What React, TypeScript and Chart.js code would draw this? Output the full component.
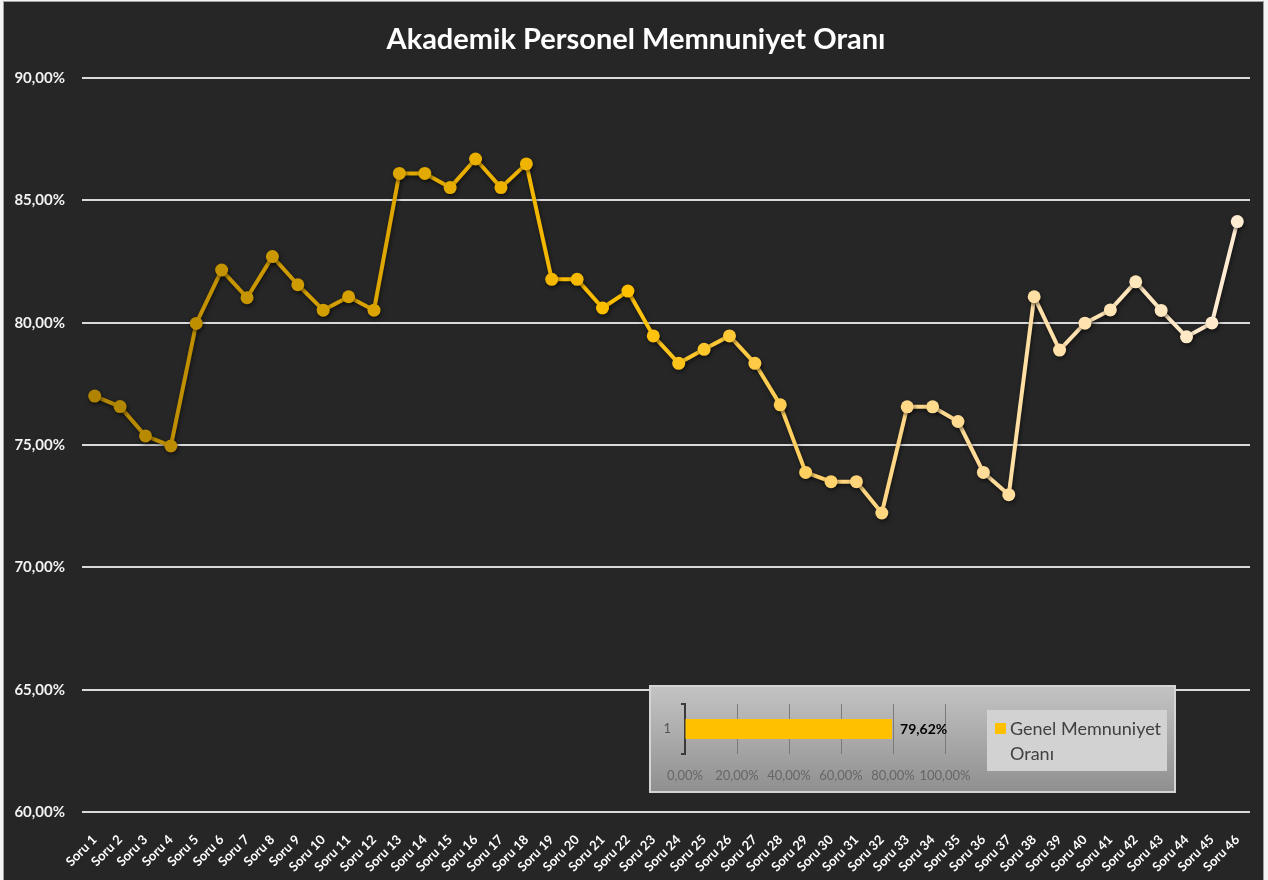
import { useEffect, useRef } from "react";
import { Chart, registerables } from "chart.js";

Chart.register(...registerables);

const chartTitle = "Akademik Personel Memnuniyet Oranı";

const categories = [
  "Soru 1", "Soru 2", "Soru 3", "Soru 4", "Soru 5", "Soru 6", "Soru 7", "Soru 8",
  "Soru 9", "Soru 10", "Soru 11", "Soru 12", "Soru 13", "Soru 14", "Soru 15", "Soru 16",
  "Soru 17", "Soru 18", "Soru 19", "Soru 20", "Soru 21", "Soru 22", "Soru 23", "Soru 24",
  "Soru 25", "Soru 26", "Soru 27", "Soru 28", "Soru 29", "Soru 30", "Soru 31", "Soru 32",
  "Soru 33", "Soru 34", "Soru 35", "Soru 36", "Soru 37", "Soru 38", "Soru 39", "Soru 40",
  "Soru 41", "Soru 42", "Soru 43", "Soru 44", "Soru 45", "Soru 46",
];

const satisfaction = [
  77.0, 76.57, 75.37, 74.96, 79.97, 82.15, 81.02, 82.7,
  81.55, 80.51, 81.06, 80.51, 86.1, 86.1, 85.52, 86.69,
  85.52, 86.49, 81.77, 81.77, 80.6, 81.29, 79.46, 78.34,
  78.91, 79.46, 78.34, 76.64, 73.88, 73.5, 73.5, 72.22,
  76.56, 76.56, 75.96, 73.88, 72.97, 81.06, 78.88, 79.98,
  80.52, 81.67, 80.5, 79.42, 79.99, 84.13,
];

const yMin = 60;
const yMax = 90;
const yStep = 5;

// inset summary chart
const overallCategory = ["1"];
const overallValue = [79.62];
const overallSeriesName = "Genel Memnuniyet Oranı";
const insetMin = 0;
const insetMax = 100;
const insetStep = 20;

// colour gradient stops along the line (index, rgb)
const colorStopIndex = [0, 12, 21, 30, 45];
const colorStopRgb: number[][] = [
  [176, 132, 0],
  [222, 166, 0],
  [255, 192, 0],
  [255, 212, 122],
  [255, 236, 210],
];

function pointColor(i: number): string {
  for (let k = 0; k < colorStopIndex.length - 1; k++) {
    const a = colorStopIndex[k];
    const b = colorStopIndex[k + 1];
    if (i >= a && i <= b) {
      const t = (i - a) / (b - a);
      const c = colorStopRgb[k].map((v, j) => Math.round(v + (colorStopRgb[k + 1][j] - v) * t));
      return `rgb(${c[0]},${c[1]},${c[2]})`;
    }
  }
  const c = colorStopRgb[colorStopRgb.length - 1];
  return `rgb(${c[0]},${c[1]},${c[2]})`;
}

const fmtPct = (v: number) => v.toFixed(2).replace(".", ",") + "%";

const FONT = "Lato, 'Open Sans', sans-serif";

export default function App() {
  const mainRef = useRef<HTMLCanvasElement>(null);
  const insetRef = useRef<HTMLCanvasElement>(null);

  useEffect(() => {
    const colors = satisfaction.map((_, i) => pointColor(i));

    const shadowPlugin = {
      id: "lineShadow",
      beforeDatasetsDraw(chart: any) {
        const ctx = chart.ctx;
        ctx.save();
        ctx.shadowColor = "rgba(0,0,0,0.55)";
        ctx.shadowBlur = 4;
        ctx.shadowOffsetX = 1;
        ctx.shadowOffsetY = 2;
      },
      afterDatasetsDraw(chart: any) {
        chart.ctx.restore();
      },
    };

    const main = new Chart(mainRef.current!, {
      type: "line",
      data: {
        labels: categories,
        datasets: [
          {
            label: chartTitle,
            data: satisfaction,
            borderWidth: 4,
            pointRadius: 6.5,
            pointHoverRadius: 6.5,
            pointBackgroundColor: colors,
            pointBorderColor: colors,
            pointBorderWidth: 0,
            borderColor: colors[0],
            segment: {
              borderColor: (ctx: any) => colors[ctx.p1DataIndex],
            },
            tension: 0,
          },
        ],
      },
      options: {
        responsive: false,
        animation: false,
        layout: { padding: { left: 0, right: 18, top: 78, bottom: 0 } },
        plugins: {
          legend: { display: false },
          tooltip: { enabled: false },
          title: { display: false },
        },
        scales: {
          x: {
            offset: true,
            grid: { display: false },
            border: { display: false },
            ticks: {
              color: "#ffffff",
              font: { family: FONT, size: 13, weight: "bold" },
              maxRotation: 45,
              minRotation: 45,
              autoSkip: false,
              padding: 12,
            },
            afterFit: (s: any) => {
              s.height = 68;
            },
          },
          y: {
            min: yMin,
            max: yMax,
            ticks: {
              stepSize: yStep,
              color: "#f2f2f2",
              font: { family: FONT, size: 15, weight: "bold" },
              padding: 17,
              callback: (v: any) => fmtPct(Number(v)),
            },
            grid: { color: "#d9d9d9", lineWidth: 2, drawTicks: false },
            border: { display: false },
            afterFit: (s: any) => {
              s.width = 82;
            },
          },
        },
      },
      plugins: [shadowPlugin],
    } as any);

    const labelPlugin = {
      id: "barLabel",
      afterDatasetsDraw(chart: any) {
        const ctx = chart.ctx;
        const meta = chart.getDatasetMeta(0);
        meta.data.forEach((el: any, i: number) => {
          ctx.save();
          ctx.fillStyle = "#000000";
          ctx.font = `bold 14px ${FONT}`;
          ctx.textBaseline = "middle";
          ctx.textAlign = "left";
          ctx.fillText(fmtPct(overallValue[i]), el.x + 8, el.y);
          ctx.restore();
        });
      },
    };

    const inset = new Chart(insetRef.current!, {
      type: "bar",
      data: {
        labels: overallCategory,
        datasets: [
          {
            label: overallSeriesName,
            data: overallValue,
            backgroundColor: "#FFC000",
            borderWidth: 0,
            barPercentage: 0.4,
            categoryPercentage: 1,
          },
        ],
      },
      options: {
        indexAxis: "y",
        responsive: false,
        animation: false,
        layout: { padding: { left: 0, right: 231, top: 19, bottom: 0 } },
        plugins: {
          legend: { display: false },
          tooltip: { enabled: false },
        },
        scales: {
          x: {
            min: insetMin,
            max: insetMax,
            ticks: {
              stepSize: insetStep,
              color: "#666666",
              font: { family: FONT, size: 13 },
              padding: 14,
              autoSkip: false,
              maxRotation: 0,
              minRotation: 0,
              callback: (v: any) => fmtPct(Number(v)),
            },
            grid: { color: "#7a7a7a", lineWidth: 1, drawTicks: false },
            border: { display: false },
            afterFit: (s: any) => {
              s.height = 39;
            },
          },
          y: {
            ticks: {
              color: "#555555",
              font: { family: FONT, size: 13 },
              padding: 10,
            },
            grid: {
              display: true,
              drawOnChartArea: false,
              drawTicks: true,
              tickLength: 4,
              color: "#3a3a3a",
              lineWidth: 2,
            },
            border: { display: true, color: "#3a3a3a", width: 2 },
            afterFit: (s: any) => {
              s.width = 36;
            },
          },
        },
      },
      plugins: [labelPlugin],
    } as any);

    return () => {
      main.destroy();
      inset.destroy();
    };
  }, []);

  return (
    <div
      style={{
        position: "absolute",
        left: 0,
        top: 0,
        width: 1268,
        height: 880,
        background: "#f4f4f4",
        overflow: "hidden",
      }}
    >
      <div
        style={{
          position: "absolute",
          left: 3,
          top: 1,
          width: 1259,
          height: 890,
          background: "#262626",
          border: "1px solid #a0a0a0",
        }}
      />
      <canvas
        ref={mainRef}
        width={1268}
        height={880}
        style={{ position: "absolute", left: 0, top: 0, width: 1268, height: 880 }}
      />
      <div
        style={{
          position: "absolute",
          left: 0,
          top: 20,
          width: 1272,
          textAlign: "center",
          fontFamily: FONT,
          fontSize: 29,
          fontWeight: "bold",
          lineHeight: "35px",
          color: "#ffffff",
          whiteSpace: "nowrap",
        }}
      >
        {chartTitle}
      </div>
      <div
        style={{
          position: "absolute",
          left: 649,
          top: 685,
          width: 527,
          height: 108,
          background: "linear-gradient(#c4c4c4, #8f8f8f)",
          boxShadow: "inset 0 0 0 2px #d4d4d4",
        }}
      >
        <canvas
          ref={insetRef}
          width={527}
          height={108}
          style={{ position: "absolute", left: 0, top: 0, width: 527, height: 108 }}
        />
        <div
          style={{
            position: "absolute",
            left: 338,
            top: 25,
            width: 180,
            height: 61,
            background: "#d2d2d2",
          }}
        >
          <div
            style={{
              position: "absolute",
              left: 8,
              top: 13,
              width: 11,
              height: 11,
              background: "#FFC000",
            }}
          />
          <div
            style={{
              position: "absolute",
              left: 23,
              top: 6,
              width: 160,
              fontFamily: FONT,
              fontSize: 18,
              lineHeight: "25px",
              color: "#404040",
            }}
          >
            {overallSeriesName}
          </div>
        </div>
      </div>
    </div>
  );
}
